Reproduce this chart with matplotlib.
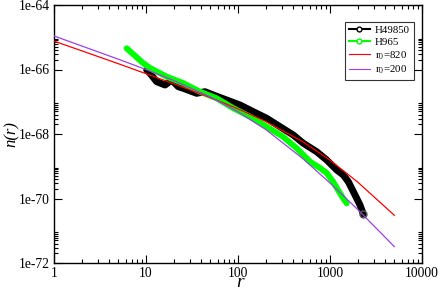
import numpy as np
import matplotlib
matplotlib.use("Agg")
import matplotlib.pyplot as plt
from matplotlib.lines import Line2D
from matplotlib.ticker import FixedLocator, NullFormatter, FixedFormatter

plt.rcParams['font.family'] = ['Liberation Serif', 'DejaVu Serif']
plt.rcParams['mathtext.fontset'] = 'stix'

# H49850 (black): log10 r, log10 n
h49850_logr = [1.008, 1.043, 1.116, 1.207, 1.279, 1.351, 1.405, 1.551, 1.641, 1.732,
               1.877, 2.022, 2.166, 2.312, 2.457, 2.601, 2.710, 2.855, 2.964, 3.073,
               3.145, 3.199, 3.272, 3.326, 3.362]
h49850_logn = [-66.016, -66.118, -66.378, -66.481, -66.326, -66.533, -66.583, -66.738, -66.688, -66.791,
               -66.946, -67.101, -67.308, -67.513, -67.774, -68.031, -68.288, -68.549, -68.806, -69.116,
               -69.271, -69.479, -69.891, -70.202, -70.481]

# H965 (green)
h965_logr = [0.790, 0.967, 1.043, 1.225, 1.402, 1.587, 1.768, 1.946, 2.130, 2.312,
             2.489, 2.638, 2.783, 2.891, 2.964, 3.033, 3.087, 3.141, 3.182]
h965_logn = [-65.343, -65.798, -65.953, -66.223, -66.419, -66.688, -66.893, -67.194, -67.464, -67.774,
             -68.084, -68.443, -68.859, -69.054, -69.209, -69.479, -69.736, -69.984, -70.149]

# model curves
model_r = [1, 2, 5, 10, 20, 50, 100, 200, 500, 1000, 2000, 5000]
r820_logn = [-65.12, -65.42, -65.82, -66.13, -66.44, -66.87, -67.22, -67.61, -68.23, -68.81, -69.49, -70.52]
r200_logn = [-64.96, -65.27, -65.68, -66.00, -66.34, -66.85, -67.31, -67.86, -68.75, -69.52, -70.34, -71.49]

x_ticks = [1, 10, 100, 1000, 10000]
x_ticklabels = ["1", "10", "100", "1000", "10000"]
y_tick_exps = [-72, -70, -68, -66, -64]
y_ticklabels = ["1e-72", "1e-70", "1e-68", "1e-66", "1e-64"]

fig = plt.figure(figsize=(4.43, 2.92), dpi=100)
ax = fig.add_axes([54/443, 29/292, 368/443, 258/292])

purple = '#a040e8'
ax.plot(10**np.array(h49850_logr), 10**np.array(h49850_logn), color='black', lw=5,
        solid_capstyle='round', solid_joinstyle='round', zorder=2)
ax.plot(10**np.array(h49850_logr)[-1:], 10**np.array(h49850_logn)[-1:], 'o', mfc='none',
        mec='#555555', ms=5, mew=1, zorder=5)
ax.plot(10**np.array(h965_logr), 10**np.array(h965_logn), color='#00ff00', lw=4.3,
        solid_capstyle='round', solid_joinstyle='round', zorder=3)
ax.plot(model_r, 10**np.array(r820_logn), color='#ff0000', lw=0.9, zorder=4)
ax.plot(model_r, 10**np.array(r200_logn), color=purple, lw=0.9, zorder=4)

ax.set_xscale('log')
ax.set_yscale('log')
ax.set_xlim(1, 10000)
ax.set_ylim(1e-72, 1e-64)

ax.xaxis.set_major_locator(FixedLocator(x_ticks))
ax.xaxis.set_major_formatter(FixedFormatter(x_ticklabels))
xminor = [m * 10**d for d in range(0, 4) for m in range(2, 10)]
ax.xaxis.set_minor_locator(FixedLocator(xminor))
ax.xaxis.set_minor_formatter(NullFormatter())

yt = [10.0**e for e in y_tick_exps]
ax.yaxis.set_major_locator(FixedLocator(yt))
ax.yaxis.set_major_formatter(FixedFormatter(y_ticklabels))
yminor = [m * 10.0**e for e in y_tick_exps[:-1] for m in range(2, 10)]
ax.yaxis.set_minor_locator(FixedLocator(yminor))
ax.yaxis.set_minor_formatter(NullFormatter())

ax.tick_params(which='both', direction='in', top=True, right=True, labelsize=9.8, width=0.8)
ax.tick_params(which='major', length=6)
ax.tick_params(which='minor', length=3)
ax.tick_params(axis='x', pad=3)
ax.tick_params(axis='y', pad=3)
for s in ax.spines.values():
    s.set_linewidth(1.0)

ax.set_xlabel('r', fontsize=14, fontstyle='italic', va='baseline')
ax.xaxis.set_label_coords(0.505, -0.092)
ax.set_ylabel('n(r)', fontsize=12, fontstyle='italic')
ax.yaxis.set_label_coords(-0.092, 0.5)

handles = [
    Line2D([], [], color='black', lw=1.5, marker='o', mfc='white', mec='black', ms=3.5, markevery=[0, -1]),
    Line2D([], [], color='#00ff00', lw=1.5, marker='o', mfc='white', mec='#00ff00', ms=3.5, markevery=[0, -1]),
    Line2D([], [], color='#ff0000', lw=0.8),
    Line2D([], [], color=purple, lw=0.8),
]
labels = ['H49850', 'H965', 'r$_0$=820', 'r$_0$=200']
leg = ax.legend(handles, labels, loc='upper right', bbox_to_anchor=(0.978, 0.935),
                fontsize=7.8, frameon=True, fancybox=False, edgecolor='black',
                handlelength=1.9, handletextpad=0.5, borderpad=0.35, labelspacing=0.2,
                borderaxespad=0)
leg.get_frame().set_linewidth(0.8)

fig.savefig('out.png', dpi=100)
